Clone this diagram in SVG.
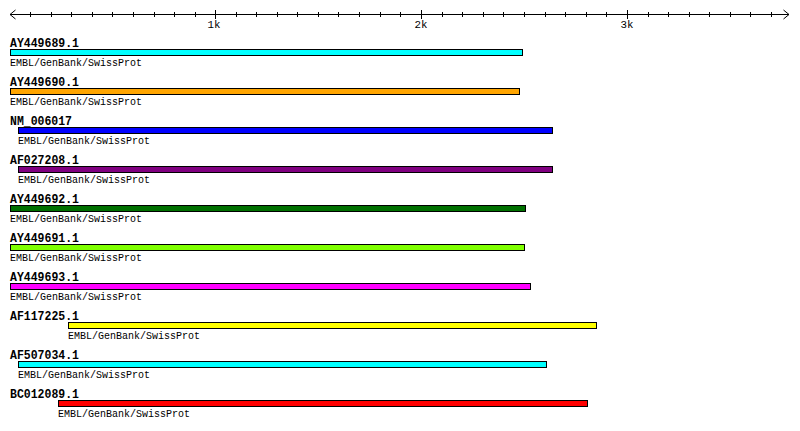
<svg xmlns="http://www.w3.org/2000/svg" width="800" height="431" viewBox="0 0 800 431">
<style>
.ax{stroke:#000;stroke-width:1;fill:none;shape-rendering:crispEdges}
.ah{stroke:#000;stroke-width:1;fill:none}
.tk{font-family:"Liberation Mono","DejaVu Sans Mono",monospace;font-size:11.5px;fill:#000;text-anchor:middle}
.lb{font-family:"Liberation Mono","DejaVu Sans Mono",monospace;font-size:12px;font-weight:bold;fill:#000}
.sb{font-family:"Liberation Mono","DejaVu Sans Mono",monospace;font-size:11.5px;fill:#000}
.bar{stroke:#000;stroke-width:1;shape-rendering:crispEdges}
</style>
<rect width="800" height="431" fill="#fff"/>
<g id="ruler">
<line class="ax" x1="10" y1="14.5" x2="789" y2="14.5"/>
<polyline class="ah" points="15.5,10 10,14.5 15.5,19"/>
<polyline class="ah" points="783.5,10 789,14.5 783.5,19"/>
<path class="ax" d="M30.5 12V17M51.5 12V17M71.5 12V17M92.5 12V17M112.5 12V17M133.5 12V17M154.5 12V17M174.5 12V17M195.5 12V17M236.5 12V17M256.5 12V17M277.5 12V17M297.5 12V17M318.5 12V17M338.5 12V17M359.5 12V17M380.5 12V17M400.5 12V17M442.5 12V17M462.5 12V17M483.5 12V17M503.5 12V17M524.5 12V17M545.5 12V17M565.5 12V17M586.5 12V17M606.5 12V17M648.5 12V17M668.5 12V17M689.5 12V17M709.5 12V17M730.5 12V17M750.5 12V17M771.5 12V17"/>
<path class="ax" d="M215.5 10V19M421.5 10V19M627.5 10V19"/>
<text class="tk" x="214" y="28" textLength="13" lengthAdjust="spacingAndGlyphs">1k</text>
<text class="tk" x="421" y="28" textLength="13" lengthAdjust="spacingAndGlyphs">2k</text>
<text class="tk" x="627" y="28" textLength="13" lengthAdjust="spacingAndGlyphs">3k</text>
</g>
<g id="connectors"></g>
<g id="t1"><text class="lb" x="10" y="46.5" textLength="69" lengthAdjust="spacingAndGlyphs">AY449689.1</text><rect class="bar" x="10.5" y="49.5" width="512" height="6" fill="#00ffff"/><text class="sb" x="10" y="65.5" textLength="132" lengthAdjust="spacingAndGlyphs">EMBL/GenBank/SwissProt</text></g>
<g id="t2"><text class="lb" x="10" y="85.5" textLength="69" lengthAdjust="spacingAndGlyphs">AY449690.1</text><rect class="bar" x="10.5" y="88.5" width="509" height="6" fill="#ffa500"/><text class="sb" x="10" y="104.5" textLength="132" lengthAdjust="spacingAndGlyphs">EMBL/GenBank/SwissProt</text></g>
<g id="t3"><text class="lb" x="10" y="124.5" textLength="62" lengthAdjust="spacingAndGlyphs">NM_006017</text><rect class="bar" x="18.5" y="127.5" width="534" height="6" fill="#0000ff"/><text class="sb" x="18" y="143.5" textLength="132" lengthAdjust="spacingAndGlyphs">EMBL/GenBank/SwissProt</text></g>
<g id="t4"><text class="lb" x="10" y="163.5" textLength="69" lengthAdjust="spacingAndGlyphs">AF027208.1</text><rect class="bar" x="18.5" y="166.5" width="534" height="6" fill="#800080"/><text class="sb" x="18" y="182.5" textLength="132" lengthAdjust="spacingAndGlyphs">EMBL/GenBank/SwissProt</text></g>
<g id="t5"><text class="lb" x="10" y="202.5" textLength="69" lengthAdjust="spacingAndGlyphs">AY449692.1</text><rect class="bar" x="10.5" y="205.5" width="515" height="6" fill="#007000"/><text class="sb" x="10" y="221.5" textLength="132" lengthAdjust="spacingAndGlyphs">EMBL/GenBank/SwissProt</text></g>
<g id="t6"><text class="lb" x="10" y="241.5" textLength="69" lengthAdjust="spacingAndGlyphs">AY449691.1</text><rect class="bar" x="10.5" y="244.5" width="514" height="6" fill="#7fff00"/><text class="sb" x="10" y="260.5" textLength="132" lengthAdjust="spacingAndGlyphs">EMBL/GenBank/SwissProt</text></g>
<g id="t7"><text class="lb" x="10" y="280.5" textLength="69" lengthAdjust="spacingAndGlyphs">AY449693.1</text><rect class="bar" x="10.5" y="283.5" width="520" height="6" fill="#ff00ff"/><text class="sb" x="10" y="299.5" textLength="132" lengthAdjust="spacingAndGlyphs">EMBL/GenBank/SwissProt</text></g>
<g id="t8"><text class="lb" x="10" y="319.5" textLength="69" lengthAdjust="spacingAndGlyphs">AF117225.1</text><rect class="bar" x="68.5" y="322.5" width="528" height="6" fill="#ffff00"/><text class="sb" x="68" y="338.5" textLength="132" lengthAdjust="spacingAndGlyphs">EMBL/GenBank/SwissProt</text></g>
<g id="t9"><text class="lb" x="10" y="358.5" textLength="69" lengthAdjust="spacingAndGlyphs">AF507034.1</text><rect class="bar" x="18.5" y="361.5" width="528" height="6" fill="#00ffff"/><text class="sb" x="18" y="377.5" textLength="132" lengthAdjust="spacingAndGlyphs">EMBL/GenBank/SwissProt</text></g>
<g id="t10"><text class="lb" x="10" y="397.5" textLength="69" lengthAdjust="spacingAndGlyphs">BC012089.1</text><rect class="bar" x="58.5" y="400.5" width="529" height="6" fill="#ff0000"/><text class="sb" x="58" y="416.5" textLength="132" lengthAdjust="spacingAndGlyphs">EMBL/GenBank/SwissProt</text></g>
</svg>
